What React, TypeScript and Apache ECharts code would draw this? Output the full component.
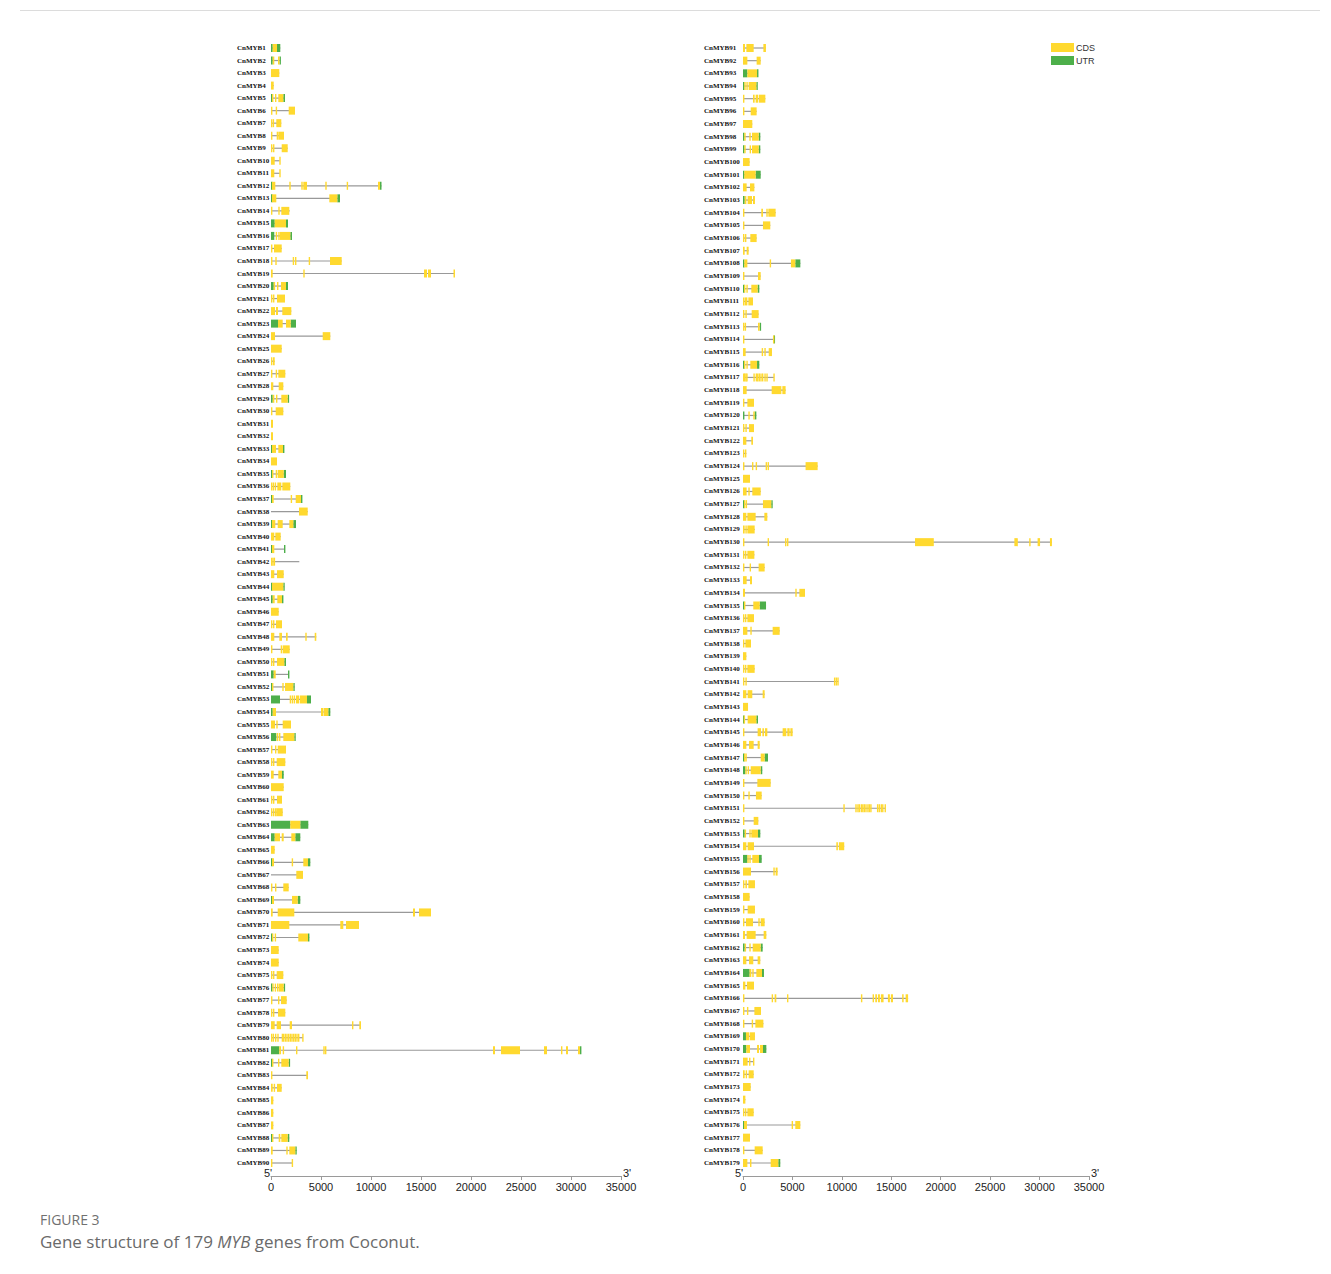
import React, { useEffect, useRef } from "react";
import * as echarts from "echarts";

// Gene names CnMYB1 … CnMYB179, split over two panels
const geneNames: string[] = Array.from({ length: 179 }, (_, i) => `CnMYB${i + 1}`);
const leftNames = geneNames.slice(0, 90);
const rightNames = geneNames.slice(90);

// Position axis (bp)
const axisMin = 0;
const axisMax = 35000;
const axisStep = 5000;

// Gene length (bp) from 5' end
const geneSpans: number[] = [
  930, 950, 830, 270, 1400, 2400, 1030, 1300, 1670, 870,
  870, 11050, 6900, 1870, 1700, 2100, 1070, 7070, 18400, 1700,
  1400, 2030, 2500, 5930, 1070, 370, 1430, 1230, 1770, 1230,
  200, 200, 1300, 600, 1500, 1930, 3070, 3670, 2500, 970,
  1370, 2830, 1270, 1330, 1170, 770, 1100, 4530, 1870, 1500,
  1770, 2370, 4000, 5930, 2000, 2430, 1500, 1430, 1270, 1270,
  1100, 1170, 3730, 2930, 370, 3930, 3200, 1770, 2930, 16000,
  8800, 3830, 770, 770, 1230, 1370, 1570, 1430, 9000, 3200,
  31000, 1900, 3700, 1070, 230, 230, 230, 1830, 2570, 2200,
  2320, 1790, 1520, 1420, 2260, 1380, 940, 1750, 1750, 670,
  1790, 1150, 1210, 3300, 2760, 1380, 570, 5800, 1790, 1650,
  1010, 1580, 1820, 3200, 2930, 1650, 3130, 4310, 1110, 1350,
  1110, 1010, 340, 7550, 710, 1790, 2970, 2460, 1180, 31250,
  1150, 2190, 910, 6270, 2330, 1110, 3710, 810, 340, 1180,
  9640, 2190, 510, 1520, 5020, 1690, 2530, 1950, 2800, 1890,
  14420, 1550, 1750, 10240, 1890, 3500, 1210, 670, 1210, 2190,
  2360, 1990, 1750, 2120, 1110, 16700, 1820, 2060, 1210, 2360,
  1110, 1080, 780, 240, 1080, 5800, 710, 1990, 3770,
];

// Coding exons per gene, as start/end pairs (bp)
const cdsExons: number[][] = [
  [170, 600],
  [170, 330, 700, 850],
  [0, 830],
  [0, 270],
  [100, 230, 400, 480, 730, 1230],
  [0, 120, 470, 570, 1770, 2400],
  [0, 100, 170, 250, 530, 1030],
  [0, 100, 570, 670, 730, 1300],
  [0, 100, 200, 300, 1070, 1670],
  [0, 370, 830, 870],
  [0, 330, 830, 870],
  [100, 430, 1830, 1900, 3030, 3170, 3230, 3600, 5430, 5500, 7570, 7630, 10700, 10900],
  [100, 530, 5830, 6630],
  [0, 100, 730, 870, 1030, 1830],
  [370, 1500],
  [470, 600, 730, 830, 900, 1930],
  [0, 100, 300, 1070],
  [0, 100, 430, 530, 2170, 2270, 2400, 2530, 3770, 3900, 5900, 7070],
  [0, 170, 3230, 3330, 15300, 15600, 15700, 16000, 18250, 18400],
  [270, 400, 600, 700, 1000, 1500],
  [0, 100, 200, 330, 600, 1400],
  [0, 400, 500, 700, 1130, 2030],
  [700, 1170, 1500, 1970],
  [0, 400, 5170, 5930],
  [0, 1070],
  [0, 100, 200, 370],
  [0, 100, 470, 570, 730, 1430],
  [0, 230, 770, 1230],
  [170, 330, 500, 600, 1030, 1670],
  [0, 130, 470, 1230],
  [0, 200],
  [0, 200],
  [100, 500, 730, 1200],
  [0, 600],
  [100, 200, 470, 600, 670, 1270],
  [0, 100, 170, 270, 370, 470, 630, 1030, 1130, 1930],
  [100, 270, 1970, 2100, 2470, 3000],
  [2800, 3670],
  [100, 430, 670, 1170, 1830, 2230],
  [0, 330, 430, 970],
  [100, 330],
  [0, 70, 130, 200, 270, 330],
  [0, 330, 600, 1270],
  [100, 1230],
  [170, 370, 630, 1100],
  [0, 770],
  [0, 100, 200, 300, 500, 1100],
  [0, 330, 830, 1100, 1500, 1670, 3430, 3570, 4370, 4530],
  [0, 100, 970, 1100, 1170, 1870],
  [0, 100, 200, 330, 600, 1330],
  [270, 470],
  [100, 230, 1130, 1270, 1400, 2230],
  [1870, 1970, 2070, 2170, 2270, 2370, 2500, 2830, 2900, 3600],
  [170, 500, 5000, 5230, 5270, 5730],
  [0, 400, 530, 670, 1170, 2000],
  [570, 730, 800, 900, 1230, 2330],
  [0, 100, 400, 500, 670, 1500],
  [0, 100, 200, 300, 570, 1430],
  [0, 270, 730, 1100],
  [0, 1270],
  [0, 100, 200, 300, 600, 1100],
  [0, 100, 200, 300, 400, 470, 530, 1170],
  [1930, 2930],
  [370, 900, 1070, 1270, 2030, 2430],
  [0, 370],
  [100, 300, 2070, 2170, 3230, 3700],
  [2530, 3200],
  [0, 70, 400, 500, 1230, 1770],
  [100, 300, 2100, 2670],
  [0, 170, 670, 2330, 14200, 14400, 14800, 16000],
  [0, 1830, 6930, 7230, 7500, 8800],
  [100, 200, 370, 470, 2730, 3700],
  [0, 770],
  [0, 770],
  [0, 100, 200, 300, 570, 1230],
  [130, 230, 370, 470, 600, 700, 770, 1270],
  [0, 100, 700, 800, 1000, 1570],
  [0, 100, 200, 300, 700, 1430],
  [0, 370, 570, 1000, 1870, 2100, 8100, 8230, 8830, 9000],
  [0, 70, 170, 240, 400, 470, 630, 700, 1070, 1150, 1200, 1280, 1370, 1450, 1530, 1610, 1700, 1780, 1870, 1950, 2030, 2110, 2200, 2280, 2360, 2440, 2530, 2610, 2700, 2780, 3120, 3200],
  [830, 1000, 1170, 1270, 2500, 2600, 5230, 5330, 5400, 5500, 22200, 22400, 23000, 24900, 27300, 27600, 29000, 29100, 29500, 29700, 30700, 30900],
  [100, 230, 700, 830, 1030, 1770],
  [0, 50, 3530, 3700],
  [0, 170, 270, 370, 600, 1070],
  [0, 230],
  [0, 230],
  [0, 230],
  [100, 200, 770, 930, 1030, 1670],
  [0, 170, 1530, 1670, 1830, 2430],
  [0, 100, 2070, 2200],
  // CnMYB91 onwards
  [0, 200, 340, 1080, 2060, 2320],
  [0, 440, 1380, 1790],
  [440, 1420],
  [130, 240, 340, 440, 570, 1350],
  [0, 100, 1010, 1180, 1280, 1520, 1590, 2260],
  [0, 130, 780, 1380],
  [0, 940],
  [130, 240, 640, 740, 910, 1590],
  [130, 240, 670, 770, 910, 1590],
  [0, 670],
  [130, 1280],
  [0, 370, 710, 1150],
  [170, 340, 470, 910, 1010, 1210],
  [0, 40, 1850, 2020, 2360, 2460, 2560, 3300],
  [0, 40, 2020, 2760],
  [0, 100, 200, 300, 740, 1380],
  [0, 170, 370, 570],
  [130, 440, 2700, 2830, 4850, 5290],
  [0, 50, 1520, 1790],
  [100, 200, 340, 440, 840, 1480],
  [0, 100, 170, 240, 300, 370, 540, 1010],
  [0, 100, 240, 340, 880, 1580],
  [0, 100, 170, 240, 1520, 1690],
  [0, 100, 3030, 3100],
  [0, 270, 1890, 2020, 2160, 2290, 2600, 2930],
  [100, 240, 340, 440, 740, 1420],
  [0, 60, 100, 160, 230, 290, 330, 390, 1050, 1180, 1280, 1380, 1420, 1520, 1580, 1680, 1750, 1850, 1920, 2020, 2160, 2260, 2360, 2500, 3070, 3130],
  [0, 370, 2900, 3880, 3980, 4310],
  [0, 130, 440, 1110],
  [540, 610, 1040, 1180],
  [0, 100, 240, 340, 610, 1110],
  [0, 340, 840, 1010],
  [0, 100, 200, 340],
  [0, 60, 910, 1010, 1280, 1380, 2290, 2390, 2490, 2590, 6330, 7550],
  [0, 710],
  [0, 370, 540, 670, 940, 1790],
  [100, 200, 270, 370, 2020, 2860],
  [0, 340, 440, 1280, 2160, 2460],
  [0, 170, 240, 340, 440, 1180],
  [0, 60, 2490, 2600, 4250, 4380, 4450, 4580, 17400, 19300, 27450, 27800, 28950, 29050, 29800, 30050, 31050, 31250],
  [0, 100, 200, 300, 440, 1150],
  [0, 100, 670, 780, 1580, 2190],
  [0, 370, 710, 910],
  [0, 200, 5290, 5390, 5700, 6270],
  [100, 200, 1040, 1690],
  [0, 100, 200, 300, 440, 1110],
  [0, 440, 740, 840, 3000, 3710],
  [0, 100, 240, 810],
  [0, 340],
  [0, 100, 200, 340, 440, 1180],
  [0, 130, 240, 370, 9200, 9300, 9370, 9470, 9540, 9640],
  [0, 340, 470, 940, 1990, 2190],
  [0, 510],
  [70, 170, 470, 1350],
  [0, 100, 1480, 1820, 1960, 2120, 2220, 2460, 4010, 4380, 4480, 4720, 4790, 5020],
  [0, 340, 610, 1080, 1480, 1690],
  [100, 200, 240, 340, 1790, 2190],
  [240, 340, 470, 610, 780, 1790],
  [0, 40, 1450, 2800],
  [0, 100, 540, 640, 1310, 1890],
  [0, 40, 10150, 10250, 11360, 11460, 11560, 11660, 11700, 11800, 11900, 12000, 12050, 12130, 12200, 12300, 12370, 12470, 12570, 12670, 12720, 12820, 12870, 12970, 13550, 13650, 13720, 13820, 13920, 14020, 14070, 14150, 14320, 14420],
  [0, 40, 1080, 1550],
  [170, 270, 640, 780, 840, 1520],
  [0, 340, 470, 1110, 9440, 9600, 9700, 10240],
  [440, 540, 640, 780, 940, 1620],
  [0, 810, 3070, 3200, 3300, 3500],
  [0, 130, 240, 400, 540, 1210],
  [0, 670],
  [0, 100, 470, 1210],
  [0, 130, 300, 1010, 1550, 1690, 1790, 2190],
  [0, 200, 370, 1280, 2090, 2360],
  [170, 270, 640, 780, 980, 1790],
  [0, 340, 610, 1040, 1480, 1750],
  [670, 840, 940, 1010, 1350, 1920],
  [0, 240, 400, 1110],
  [0, 40, 2900, 3030, 3200, 3370, 4450, 4520, 11930, 12030, 13110, 13240, 13380, 13550, 13650, 13850, 13950, 14220, 14660, 14860, 14960, 15170, 16100, 16250, 16450, 16700],
  [0, 100, 400, 510, 1150, 1820],
  [0, 100, 880, 1010, 1250, 2060],
  [300, 610, 670, 1210],
  [340, 710, 1420, 1620, 1720, 2020],
  [0, 470, 610, 670, 1010, 1110],
  [0, 170, 270, 370, 570, 1080],
  [0, 780],
  [0, 240],
  [0, 100, 200, 300, 440, 1080],
  [100, 400, 4920, 5050, 5290, 5800],
  [0, 710],
  [0, 100, 1180, 1990],
  [0, 440, 710, 840, 2800, 3570],
];

// Untranslated regions per gene, as start/end pairs (bp)
const utrExons: number[][] = [
  [0, 170, 600, 930], [0, 170, 850, 950], [], [], [0, 100, 1230, 1400],
  [], [], [], [], [],
  [], [0, 100, 10900, 11050], [0, 100, 6630, 6900], [], [0, 370, 1500, 1700],
  [0, 330, 1930, 2100], [], [], [], [0, 270, 1500, 1700],
  [], [], [0, 700, 1970, 2500], [], [],
  [], [], [], [0, 170, 1670, 1770], [],
  [], [], [0, 100, 1200, 1300], [], [0, 100, 1270, 1500],
  [], [0, 100, 3000, 3070], [], [0, 100, 2230, 2500], [],
  [0, 100, 1300, 1370], [], [], [0, 100, 1230, 1330], [0, 170, 1100, 1170],
  [], [], [], [], [1330, 1500],
  [0, 270, 1700, 1770], [0, 100, 2230, 2370], [0, 900, 3600, 4000], [0, 170, 5730, 5930], [],
  [0, 530, 2330, 2430], [], [], [1100, 1270], [],
  [], [], [0, 1930, 2930, 3730], [0, 370, 2430, 2930], [],
  [0, 100, 3700, 3930], [], [], [0, 100, 2670, 2930], [],
  [], [0, 100, 3700, 3830], [], [], [],
  [0, 130, 1270, 1370], [], [], [], [],
  [0, 830, 30900, 31000], [0, 100, 1770, 1900], [], [], [],
  [], [], [0, 100, 1670, 1830], [2430, 2570], [],
  // CnMYB91 onwards
  [], [], [0, 440, 1420, 1520], [0, 130, 1350, 1420], [],
  [], [], [0, 130, 1590, 1750], [0, 130, 1590, 1750], [],
  [0, 130, 1280, 1790], [], [0, 170], [], [],
  [], [], [0, 130, 5290, 5800], [], [0, 100, 1480, 1650],
  [], [], [1690, 1820], [3100, 3200], [],
  [0, 100, 1420, 1650], [], [], [], [0, 50, 1180, 1350],
  [], [], [], [], [],
  [], [0, 100, 2860, 2970], [], [], [],
  [], [], [], [], [0, 100, 1690, 2330],
  [], [], [], [], [],
  [], [], [], [0, 70, 1350, 1520], [],
  [], [0, 100, 2190, 2530], [0, 240, 1790, 1950], [], [],
  [], [], [0, 170, 1520, 1750], [], [0, 440, 1620, 1890],
  [], [], [], [], [],
  [], [0, 170, 1790, 1990], [], [0, 670, 1920, 2120], [],
  [], [], [], [0, 300], [0, 340, 2020, 2360],
  [], [], [], [], [],
  [0, 100], [], [], [3570, 3770],
];

const CDS_COLOR = "#FFD92F";
const UTR_COLOR = "#4DAF4A";
const INTRON_COLOR = "#999999";
const EXON_HEIGHT = 8;

// Draws one gene per row: an intron line over the whole span, then UTR and CDS boxes
function geneRenderer(offset: number) {
  return (params: any, api: any) => {
    const g = offset + params.dataIndex;
    const row = api.value(1);
    const [x0, y] = api.coord([0, row]);
    const xEnd = api.coord([geneSpans[g], row])[0];
    const children: any[] = [
      {
        type: "line",
        shape: { x1: x0, y1: y, x2: xEnd, y2: y },
        style: { stroke: INTRON_COLOR, lineWidth: 1.2 },
      },
    ];
    const addBoxes = (pairs: number[], color: string) => {
      for (let k = 0; k + 1 < pairs.length; k += 2) {
        const a = api.coord([pairs[k], row])[0];
        const b = api.coord([pairs[k + 1], row])[0];
        children.push({
          type: "rect",
          shape: { x: a, y: y - EXON_HEIGHT / 2, width: Math.max(b - a, 1.4), height: EXON_HEIGHT },
          style: { fill: color },
        });
      }
    };
    addBoxes(utrExons[g] || [], UTR_COLOR);
    addBoxes(cdsExons[g] || [], CDS_COLOR);
    return { type: "group", children };
  };
}

const gridTop = 48;
const gridHeight = 1115;
const panels = [
  { left: 271, width: 350, names: leftNames, offset: 0, labelMargin: 34 },
  { left: 743, width: 346, names: rightNames, offset: 90, labelMargin: 39 },
];

function buildOption(): any {
  const grid = panels.map((p) => ({ left: p.left, width: p.width, top: gridTop, height: gridHeight }));
  const xAxis = panels.map((_, i) => ({
    type: "value",
    gridIndex: i,
    min: axisMin,
    max: axisMax,
    interval: axisStep,
    position: "bottom",
    offset: 13,
    axisLine: { show: true, lineStyle: { color: "#9a9a9a", width: 1 } },
    axisTick: { show: true, length: 4, lineStyle: { color: "#9a9a9a" } },
    axisLabel: {
      color: "#222",
      fontSize: 11,
      fontFamily: "Liberation Sans, Arial, sans-serif",
      margin: 5,
      formatter: (v: number) => String(v),
    },
    splitLine: { show: false },
  }));
  const yAxis = panels.map((p, i) => ({
    type: "category",
    gridIndex: i,
    data: p.names,
    inverse: true,
    boundaryGap: false,
    axisLine: { show: false },
    axisTick: { show: false },
    splitLine: { show: false },
    axisLabel: {
      interval: 0,
      align: "left",
      margin: p.labelMargin,
      fontSize: 7,
      fontWeight: "bold",
      fontFamily: "Liberation Serif, Times New Roman, serif",
      color: "#111",
    },
  }));
  const series = panels.map((p, i) => ({
    type: "custom",
    xAxisIndex: i,
    yAxisIndex: i,
    silent: true,
    clip: false,
    encode: { x: 0, y: 1 },
    data: p.names.map((_, r) => [geneSpans[p.offset + r], r]),
    renderItem: geneRenderer(p.offset),
  }));

  const axisY = gridTop + gridHeight + 13;
  const primeText = (text: string, x: number) => ({
    type: "text",
    x,
    y: axisY + 2,
    style: {
      text,
      fontSize: 11,
      fontFamily: "Liberation Sans, Arial, sans-serif",
      fill: "#222",
      verticalAlign: "bottom",
    },
  });

  const graphic: any[] = [
    {
      type: "line",
      shape: { x1: 20, y1: 10.5, x2: 1320, y2: 10.5 },
      style: { stroke: "#dcdcdc", lineWidth: 1 },
    },
    primeText("5'", 264),
    primeText("3'", 623),
    primeText("5'", 735),
    primeText("3'", 1091),
    // legend
    { type: "rect", shape: { x: 1051, y: 43, width: 23, height: 9 }, style: { fill: CDS_COLOR } },
    { type: "rect", shape: { x: 1051, y: 56, width: 23, height: 9 }, style: { fill: UTR_COLOR } },
    {
      type: "text",
      x: 1076,
      y: 47.5,
      style: { text: "CDS", fontSize: 9, fontFamily: "Liberation Sans, Arial, sans-serif", fill: "#333", verticalAlign: "middle" },
    },
    {
      type: "text",
      x: 1076,
      y: 60.5,
      style: { text: "UTR", fontSize: 9, fontFamily: "Liberation Sans, Arial, sans-serif", fill: "#333", verticalAlign: "middle" },
    },
    // caption
    {
      type: "text",
      x: 40,
      y: 1212,
      style: { text: "FIGURE 3", fontSize: 14, fontFamily: "Open Sans, sans-serif", fill: "#707070" },
    },
    {
      type: "text",
      x: 40,
      y: 1233,
      style: {
        text: "{a|Gene structure of 179 }{b|MYB}{a| genes from Coconut.}",
        rich: {
          a: { fontSize: 17, fontFamily: "Open Sans, sans-serif", fill: "#6a6a6a" },
          b: { fontSize: 17, fontFamily: "Open Sans, sans-serif", fontStyle: "italic", fill: "#6a6a6a" },
        },
      },
    },
  ];

  return {
    animation: false,
    backgroundColor: "#ffffff",
    grid,
    xAxis,
    yAxis,
    series,
    graphic,
  };
}

export default function App() {
  const ref = useRef<HTMLDivElement>(null);
  useEffect(() => {
    if (!ref.current) return;
    const chart = echarts.init(ref.current, undefined, { renderer: "svg" });
    chart.setOption(buildOption());
    return () => chart.dispose();
  }, []);
  return (
    <div
      ref={ref}
      style={{ position: "absolute", left: 0, top: 0, width: 1331, height: 1274, background: "#fff" }}
    />
  );
}
